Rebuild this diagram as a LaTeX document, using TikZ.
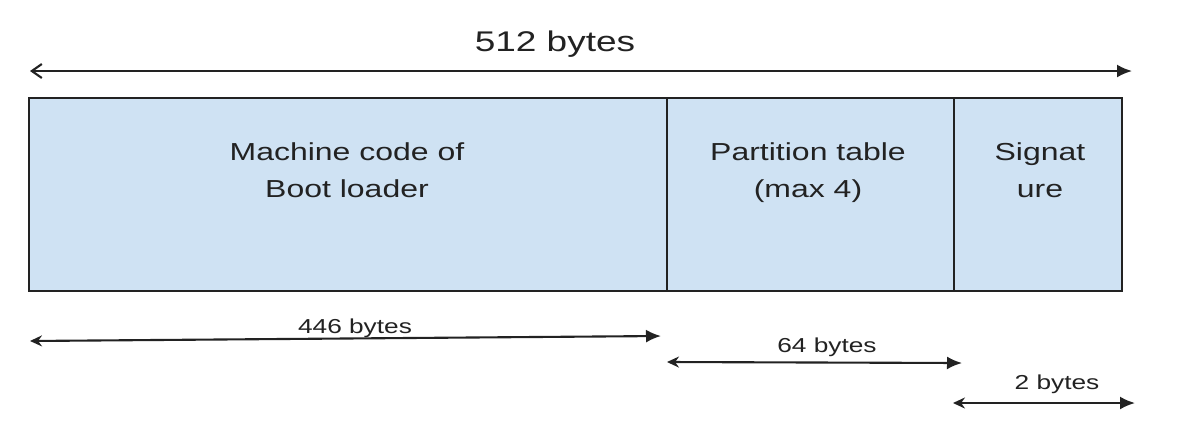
\documentclass[tikz,border=0pt]{standalone}
\usepackage{fontspec}
\setmainfont[FakeStretch=1.3]{Liberation Sans}
\usetikzlibrary{arrows.meta}
\definecolor{cellblue}{HTML}{CFE2F3}
\definecolor{inkgray}{HTML}{222222}

\begin{document}
\begin{tikzpicture}[x=0.02cm, y=-0.02cm,
  cell/.style={draw=inkgray, fill=cellblue, line width=1pt, minimum height=3.86cm, inner sep=0pt, outer sep=0pt, anchor=north west},
  celltext/.style={align=center, font=\fontsize{14}{20.5}\selectfont, text=inkgray, anchor=base},
  sizetext/.style={font=\fontsize{11.5}{13}\selectfont, text=inkgray, anchor=base, inner sep=0pt},
  span/.style={draw=inkgray, line width=1.2pt, {Stealth[length=2.4mm,width=2.2mm]}-{Latex[length=3mm,width=2.6mm]}}
]
\useasboundingbox (0,0) rectangle (1178,434);

% whole sector
\node[font=\fontsize{16.2}{18}\selectfont, text=inkgray, anchor=base] (total) at (555,51) {512 bytes};
\coordinate (allL) at (30,71);
\coordinate (allR) at (1132,71);
\draw[span, {Straight Barb[length=2mm,width=2.8mm]}-{Latex[length=3mm,width=2.6mm]}] (allL) -- (allR);

% the three parts
\node[cell, minimum width=12.76cm] (boot) at (29,98) {};
\node[cell, minimum width=5.74cm] (part) at (boot.north east) {};
\node[cell, minimum width=3.36cm] (sign) at (part.north east) {};

\node[celltext] (boottext) at (347,197) {Machine code of\\Boot loader};
\node[celltext] (parttext) at (808,197) {Partition table\\(max 4)};
\node[celltext] (signtext) at (1040,197) {Signat\\ure};

% sizes below
\coordinate (bootL) at (30,341);
\coordinate (bootR) at (661,336);
\coordinate (partL) at (667,362);
\coordinate (partR) at (962,363);
\coordinate (signL) at (953,403);
\coordinate (signR) at (1135,403);

\node[sizetext] (bootsize) at (355,333) {446 bytes};
\node[sizetext] (partsize) at (827,352) {64 bytes};
\node[sizetext] (signsize) at (1057,389) {2 bytes};

\draw[span] (bootL) -- (bootR);
\draw[span] (partL) -- (partR);
\draw[span] (signL) -- (signR);
\end{tikzpicture}
\end{document}
